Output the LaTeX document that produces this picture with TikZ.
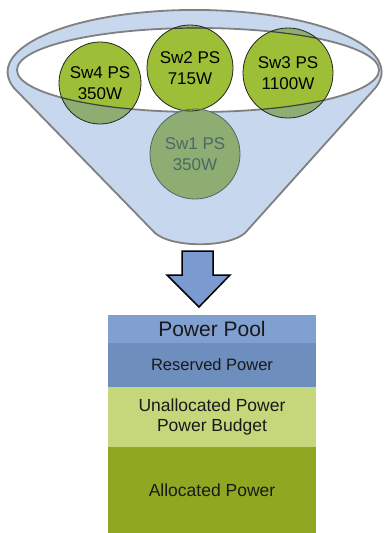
\documentclass[tikz,border=0pt]{standalone}
\usepackage{fontspec}
\setmainfont{Liberation Sans}
\usetikzlibrary{positioning}
\definecolor{funnelblue}{RGB}{198,215,238}
\definecolor{rimgray}{RGB}{128,128,128}
\definecolor{limegreen}{RGB}{157,190,55}
\definecolor{dimgreen}{RGB}{141,173,114}
\definecolor{arrowblue}{RGB}{123,155,208}
\definecolor{poolblue}{RGB}{128,160,210}
\definecolor{reserveblue}{RGB}{110,143,190}
\definecolor{unallocgreen}{RGB}{196,215,122}
\definecolor{allocgreen}{RGB}{143,168,34}
\definecolor{sunkgray}{RGB}{78,104,102}

\begin{document}
\begin{tikzpicture}[
  x=1pt, y=-1pt,
  funnel/.style={
    fill=funnelblue,
    draw=rimgray,
    line width=1.8pt
    },
  swdisc/.style={
    circle,
    draw=black!85,
    line width=0.8pt,
    minimum size=#1,
    inner sep=0pt,
    align=center,
    font=\fontsize{17}{21}\selectfont
    },
  blockarrow/.style={
    fill=arrowblue,
    draw=black,
    line width=1.5pt,
    line join=miter
    },
  band/.style={
    rectangle,
    minimum width=208pt,
    inner sep=0pt,
    outer sep=0pt,
    align=center,
    text=black!90
    }
]

\useasboundingbox[fill=white] (0,0) rectangle (386,533);

% funnel body and rim
\draw[funnel] (14,88) arc[start angle=195, end angle=-15, x radius=187pt, y radius=62pt]
  -- (245,233) .. controls (228,248) and (172,248) .. (155,233) -- cycle;
\draw[rimgray, line width=1.8pt, fill=white] (198,70) ellipse [x radius=181pt, y radius=42pt];

% power supplies
\coordinate (c4) at (100,83);
\coordinate (c2) at (190,68);
\coordinate (c3) at (288,73);
\coordinate (c1) at (195,154);
\foreach \c/\r in {c4/41,c2/43,c3/45,c1/45}
  \fill[dimgreen] (\c) circle (\r pt);
\begin{scope}
  \clip (198,70) ellipse [x radius=181pt, y radius=42pt];
  \foreach \c/\r in {c4/41,c2/43,c3/45}
    \fill[limegreen] (\c) circle (\r pt);
\end{scope}
\begin{scope}
  \clip (c4) circle (41pt) (c2) circle (43pt) (c3) circle (45pt);
  \draw[black!75, line width=1.2pt] (198,70) ellipse [x radius=181pt, y radius=42pt];
\end{scope}

\node[swdisc=82pt] (sw4) at (c4) {Sw4 PS\\350W};
\node[swdisc=86pt] (sw2) at (c2) {Sw2 PS\\715W};
\node[swdisc=90pt] (sw3) at (c3) {Sw3 PS\\1100W};
\node[swdisc=90pt, draw=sunkgray, text=sunkgray] (sw1) at (c1) {Sw1 PS\\350W};

% arrow into the pool
\draw[blockarrow] (182,251) -- (213,251) -- (213,275) -- (230,275)
  -- (199,307) -- (167,275) -- (182,275) -- cycle;

% power pool
\node[band, minimum height=28pt, fill=poolblue, font=\fontsize{21}{25}\selectfont]
  (pool) at (212,329) {Power Pool};
\node[band, minimum height=44pt, fill=reserveblue, font=\fontsize{16.5}{20}\selectfont, below=0pt of pool]
  (reserved) {Reserved Power};
\node[band, minimum height=60pt, fill=unallocgreen, font=\fontsize{17.5}{20}\selectfont, below=0pt of reserved]
  (unalloc) {Unallocated Power\\Power Budget};
\node[band, minimum height=86pt, fill=allocgreen, font=\fontsize{17.5}{20}\selectfont, below=0pt of unalloc]
  (alloc) {Allocated Power};

\end{tikzpicture}
\end{document}
